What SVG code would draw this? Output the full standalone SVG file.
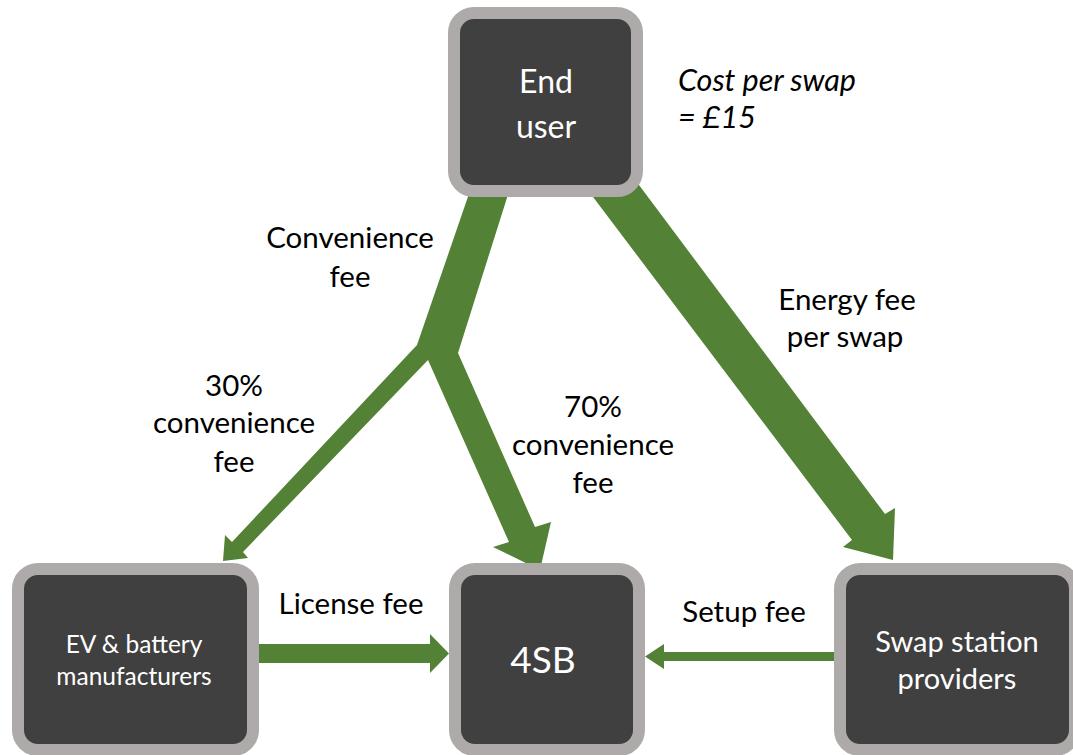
<svg xmlns="http://www.w3.org/2000/svg" width="1073" height="755" viewBox="0 0 1073 755">
<style>
.box{fill:#404040;stroke:#AEAAAA;stroke-width:12}
.ntx{fill:#ffffff;font-family:Lato,"Open Sans",sans-serif;text-anchor:middle}
.lbl{fill:#000000;font-family:Lato,"Open Sans",sans-serif;font-size:29.5px;text-anchor:middle}
.it{font-style:italic;font-size:30.5px;text-anchor:start}
.arr{fill:#538135}
</style>
<rect width="1073" height="755" fill="#ffffff"/>
<g id="connectors">
<polygon class="arr" points="472,185 511,185 458,353 535,527 551,522 540,570 493,547 509,542 428,360 243,552 248,558 223,561 225,535 232,542 417,345"/>
<polygon class="arr" points="584,185 639,185 885,514 895,508 893,560 843,547 852,540"/>
<polygon class="arr" points="259,644 430,644 430,634 449,653.5 430,673 430,663 259,663"/>
<polygon class="arr" points="834,652 664,652 664,644 645,656.5 664,669 664,661 834,661"/>
</g>
<g id="node-enduser">
<rect class="box" x="454" y="13" width="183" height="178" rx="20"/>
<text class="ntx" font-size="32" x="546" y="93">End</text>
<text class="ntx" font-size="32" x="546" y="138">user</text>
</g>
<g id="node-ev">
<rect class="box" x="18" y="569" width="235" height="181" rx="20"/>
<text class="ntx" font-size="24.5" x="134" y="653">EV &amp; battery</text>
<text class="ntx" font-size="24.5" x="134" y="685">manufacturers</text>
</g>
<g id="node-4sb">
<rect class="box" x="455" y="569" width="184" height="181" rx="20"/>
<text class="ntx" font-size="37" x="543" y="673">4SB</text>
</g>
<g id="node-swap">
<rect class="box" x="840" y="569" width="235" height="181" rx="20"/>
<text class="ntx" font-size="29" x="957" y="652">Swap station</text>
<text class="ntx" font-size="29" x="957" y="689">providers</text>
</g>
<g id="labels">
<text class="lbl it" x="678" y="91">Cost per swap</text>
<text class="lbl it" x="678" y="128">= £15</text>
<text class="lbl" x="350" y="248">Convenience</text>
<text class="lbl" x="350" y="287">fee</text>
<text class="lbl" x="847" y="310">Energy fee</text>
<text class="lbl" x="845" y="347">per swap</text>
<text class="lbl" x="234" y="396">30%</text>
<text class="lbl" x="234" y="433">convenience</text>
<text class="lbl" x="234" y="472">fee</text>
<text class="lbl" x="593" y="417">70%</text>
<text class="lbl" x="593" y="455">convenience</text>
<text class="lbl" x="593" y="493">fee</text>
<text class="lbl" x="351" y="614">License fee</text>
<text class="lbl" x="744" y="622">Setup fee</text>
</g>
</svg>
